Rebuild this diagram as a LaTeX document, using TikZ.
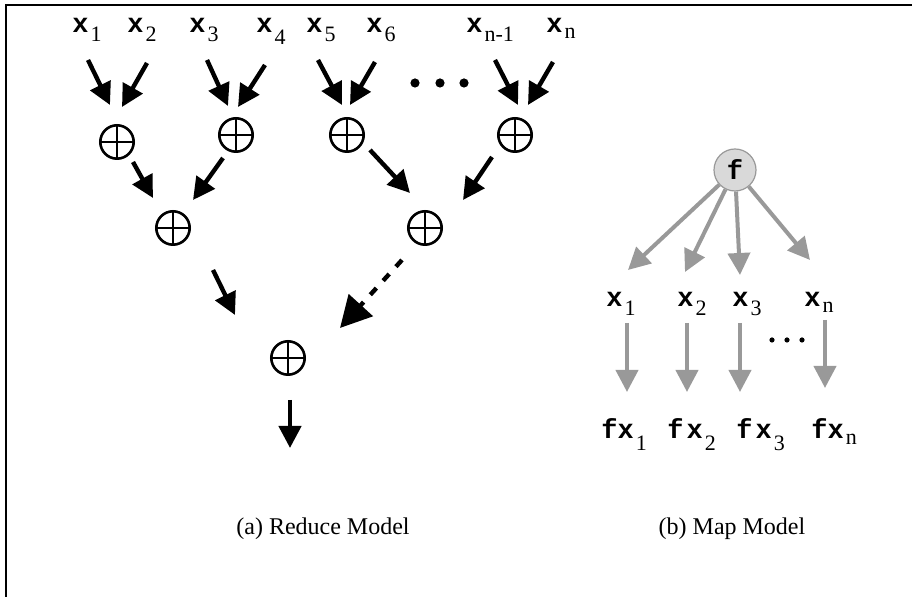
\documentclass[tikz,border=0pt]{standalone}
\usepackage{fontspec}
\setmainfont{Liberation Serif}
\setmonofont{Liberation Mono}
\usetikzlibrary{arrows.meta,positioning}

\definecolor{arrowgray}{RGB}{153,153,153}
\definecolor{fgray}{RGB}{217,217,217}
\newcommand{\lowsub}[2][4.5pt]{\kern1pt\raisebox{-#1}{\rmfamily\mdseries\fontsize{11}{11}\selectfont #2}}

\begin{document}
\begin{tikzpicture}[x=0.5pt,y=-0.5pt,>={Triangle[length=11pt,width=11pt]},
                    lbl/.style={anchor=base west,inner sep=0pt,
                      font=\fontsize{13.5}{14}\selectfont\ttfamily\bfseries},
                    plus/.style={circle,draw,line width=1.3pt,minimum size=16.7pt,inner sep=0pt,
                      path picture={\draw[line width=1.2pt]
                        (path picture bounding box.north) -- (path picture bounding box.south)
                        (path picture bounding box.west) -- (path picture bounding box.east);}},
                    fnode/.style={circle,draw=arrowgray,fill=fgray,line width=0.6pt,
                      minimum size=21pt,inner sep=0pt,
                      font=\fontsize{13.5}{14}\selectfont\ttfamily\bfseries},
                    flow/.style={->,line width=2.2pt},
                    mapflow/.style={->,line width=2pt,color=arrowgray},
                    caption/.style={anchor=base,font=\fontsize{12}{14}\selectfont}]

  \useasboundingbox (0,0) rectangle (912,597);
  \draw[line width=1pt] (6,597) |- (912,5);

  % reduce model
  \node[lbl] (x1) at (72,33)  {x\lowsub{1}};
  \node[lbl] (x2) at (127,33) {x\lowsub{2}};
  \node[lbl] (x3) at (189,33) {x\lowsub{3}};
  \node[lbl] (x4) at (256,33) {x\lowsub[6pt]{4}};
  \node[lbl] (x5) at (306,33) {x\lowsub{5}};
  \node[lbl] (x6) at (366,33) {x\lowsub{6}};
  \node[lbl] (xm) at (466,33) {x\lowsub{n-1}};
  \node[lbl] (xn) at (546,33) {x\lowsub[3pt]{n}};

  \foreach \d in {415,440,464}
    \fill (\d,83) circle (2.3pt);

  \node[plus] (p1) at (117,142) {};
  \node[plus] (p2) at (236,135) {};
  \node[plus] (p3) at (347,135) {};
  \node[plus] (p4) at (515,135) {};
  \node[plus] (q1) at (173,228) {};
  \node[plus] (q2) at (425,228) {};
  \node[plus] (r)  at (288,358) {};
  \coordinate (out) at (290,448);

  \draw[flow] ([shift={(16,27)}]x1.base west) -- ([shift={(-7,-37)}]p1.center);
  \draw[flow] ([shift={(20,30)}]x2.base west) -- ([shift={(5,-35)}]p1.center);
  \draw[flow] ([shift={(18,27)}]x3.base west) -- ([shift={(-8,-29)}]p2.center);
  \draw[flow] ([shift={(9,32)}]x4.base west)  -- ([shift={(2,-28)}]p2.center);
  \draw[flow] ([shift={(12,27)}]x5.base west) -- ([shift={(-5,-30)}]p3.center);
  \draw[flow] ([shift={(9,29)}]x6.base west)  -- ([shift={(3,-30)}]p3.center);
  \draw[flow] ([shift={(29,27)}]xm.base west) -- ([shift={(3,-30)}]p4.center);
  \draw[flow] ([shift={(7,29)}]xn.base west)  -- ([shift={(13,-30)}]p4.center);

  \draw[flow] ([shift={(16,20)}]p1.center)  -- ([shift={(-20,-30)}]q1.center);
  \draw[flow] ([shift={(-13,23)}]p2.center) -- ([shift={(20,-28)}]q1.center);
  \draw[flow] ([shift={(23,15)}]p3.center)  -- ([shift={(-15,-35)}]q2.center);
  \draw[flow] ([shift={(-23,22)}]p4.center) -- ([shift={(38,-28)}]q2.center);

  \draw[flow] ([shift={(40,42)}]q1.center) -- ([shift={(-53,-43)}]r.center);
  \draw[flow,dash pattern=on 4.5pt off 5pt,
        -{Triangle[length=15.5pt,width=16pt]}]
        ([shift={(-23,32)}]q2.center) -- ([shift={(52,-30)}]r.center);
  \draw[flow] ([shift={(2,42)}]r.center) -- (out);

  \node[caption] (capa) at (323,535) {(a) Reduce Model};

  % map model
  \node[fnode] (f) at (735,170) {f};

  \node[lbl] (m1) at (606,307) {x\lowsub{1}};
  \node[lbl] (m2) at (677,307) {x\lowsub{2}};
  \node[lbl] (m3) at (732,307) {x\lowsub{3}};
  \node[lbl] (mn) at (804,307) {x\lowsub[3pt]{n}};

  \node[lbl] (y1) at (601,439) {fx\lowsub[6pt]{1}};
  \node[lbl] (y2) at (667,439) {f\kern1.5pt x\lowsub[6pt]{2}};
  \node[lbl] (y3) at (736,439) {f\kern1.5pt x\lowsub[6pt]{3}};
  \node[lbl] (yn) at (811,439) {fx\lowsub[3pt]{n}};

  \draw[mapflow] (f) -- ([shift={(22,-37)}]m1.base west);
  \draw[mapflow] (f) -- ([shift={(8,-35)}]m2.base west);
  \draw[mapflow] (f) -- ([shift={(8,-32)}]m3.base west);
  \draw[mapflow] (f) -- ([shift={(6,-47)}]mn.base west);

  \draw[mapflow] ([shift={(21,16)}]m1.base west) -- ([shift={(26,-47)}]y1.base west);
  \draw[mapflow] ([shift={(10,16)}]m2.base west) -- ([shift={(20,-47)}]y2.base west);
  \draw[mapflow] ([shift={(8,16)}]m3.base west)  -- ([shift={(4,-47)}]y3.base west);
  \draw[mapflow] ([shift={(21,13)}]mn.base west) -- ([shift={(14,-51)}]yn.base west);

  \foreach \d in {772,787,802}
    \fill (\d,340) circle (1.3pt);

  \node[caption] (capb) at (732,535) {(b) Map Model};
\end{tikzpicture}
\end{document}
